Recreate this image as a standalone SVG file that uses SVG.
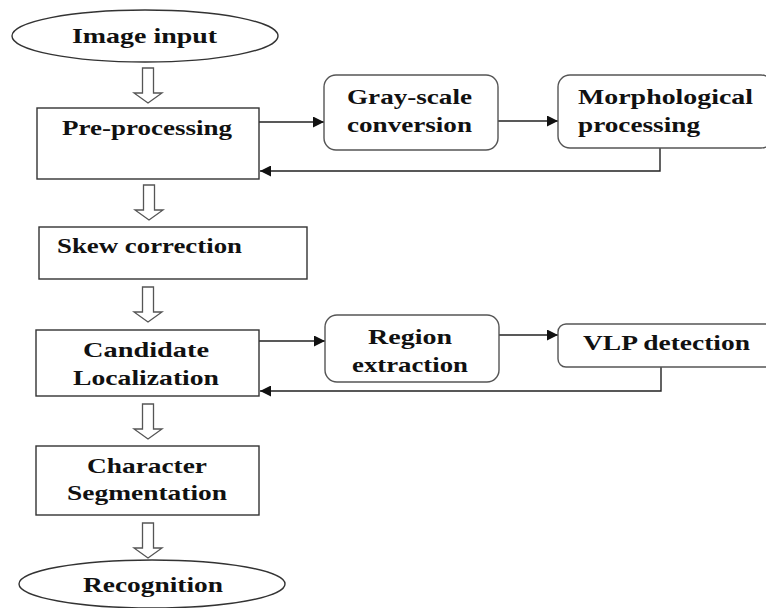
<svg xmlns="http://www.w3.org/2000/svg" width="766" height="608" viewBox="0 0 766 608">
<style>
.box{fill:#fff;stroke:#333;stroke-width:1.4}
.rbox{fill:#fff;stroke:#555;stroke-width:1.4}
.t{font-family:"Liberation Serif","DejaVu Serif",serif;font-weight:bold;font-size:22px;fill:#111}
.ln{fill:none;stroke:#222;stroke-width:1.4}
.blk{fill:#fff;stroke:#555;stroke-width:1.3}
</style>
<defs>
<marker id="ah" viewBox="0 0 10 10" refX="10" refY="5" markerWidth="11" markerHeight="11" markerUnits="userSpaceOnUse" orient="auto">
<path d="M0,0 L10,5 L0,10 Z" fill="#111"/>
</marker>
<path id="blk" d="M-5.5,0 H5.5 V25 H14 L0,35 L-14,25 H-5.5 Z"/>
</defs>
<rect width="766" height="608" fill="#fff"/>
<g id="connectors">
<use href="#blk" class="blk" x="148" y="68"/>
<use href="#blk" class="blk" x="149" y="185"/>
<use href="#blk" class="blk" x="148" y="287"/>
<use href="#blk" class="blk" x="148" y="404"/>
<use href="#blk" class="blk" x="148" y="523"/>
<line class="ln" x1="259" y1="122" x2="324" y2="122" marker-end="url(#ah)"/>
<line class="ln" x1="498" y1="121" x2="558" y2="121" marker-end="url(#ah)"/>
<polyline class="ln" points="660,148 660,171 260,171" marker-end="url(#ah)"/>
<line class="ln" x1="259" y1="341" x2="325" y2="341" marker-end="url(#ah)"/>
<line class="ln" x1="499" y1="335" x2="558" y2="335" marker-end="url(#ah)"/>
<polyline class="ln" points="661,367 661,391 260,391" marker-end="url(#ah)"/>
</g>
<g id="image-input">
<ellipse class="box" cx="145" cy="36" rx="133" ry="26"/>
<text class="t" x="72" y="43" textLength="145" lengthAdjust="spacingAndGlyphs">Image input</text>
</g>
<g id="pre-processing">
<rect class="box" x="37" y="108" width="222" height="71"/>
<text class="t" x="62" y="135" textLength="170" lengthAdjust="spacingAndGlyphs">Pre-processing</text>
</g>
<g id="gray-scale">
<rect class="rbox" x="324" y="75" width="174" height="75" rx="12"/>
<text class="t" x="347" y="104" textLength="125" lengthAdjust="spacingAndGlyphs">Gray-scale</text>
<text class="t" x="347" y="132" textLength="125" lengthAdjust="spacingAndGlyphs">conversion</text>
</g>
<g id="morphological">
<rect class="rbox" x="558" y="75" width="215" height="73" rx="12"/>
<text class="t" x="578" y="104" textLength="175" lengthAdjust="spacingAndGlyphs">Morphological</text>
<text class="t" x="578" y="132" textLength="122" lengthAdjust="spacingAndGlyphs">processing</text>
</g>
<g id="skew-correction">
<rect class="box" x="39" y="227" width="268" height="52"/>
<text class="t" x="57" y="253" textLength="185" lengthAdjust="spacingAndGlyphs">Skew correction</text>
</g>
<g id="candidate-localization">
<rect class="box" x="36" y="330" width="223" height="66"/>
<text class="t" x="83" y="357" textLength="126" lengthAdjust="spacingAndGlyphs">Candidate</text>
<text class="t" x="73" y="385" textLength="146" lengthAdjust="spacingAndGlyphs">Localization</text>
</g>
<g id="region-extraction">
<rect class="rbox" x="325" y="315" width="174" height="67" rx="12"/>
<text class="t" x="368" y="344" textLength="84" lengthAdjust="spacingAndGlyphs">Region</text>
<text class="t" x="352" y="372" textLength="116" lengthAdjust="spacingAndGlyphs">extraction</text>
</g>
<g id="vlp-detection">
<rect class="rbox" x="558" y="324" width="215" height="43" rx="8"/>
<text class="t" x="583" y="350" textLength="167" lengthAdjust="spacingAndGlyphs">VLP detection</text>
</g>
<g id="character-segmentation">
<rect class="box" x="36" y="446" width="223" height="69"/>
<text class="t" x="87" y="473" textLength="120" lengthAdjust="spacingAndGlyphs">Character</text>
<text class="t" x="67" y="500" textLength="160" lengthAdjust="spacingAndGlyphs">Segmentation</text>
</g>
<g id="recognition">
<ellipse class="box" cx="152" cy="584" rx="133" ry="24"/>
<text class="t" x="83" y="592" textLength="140" lengthAdjust="spacingAndGlyphs">Recognition</text>
</g>
</svg>
